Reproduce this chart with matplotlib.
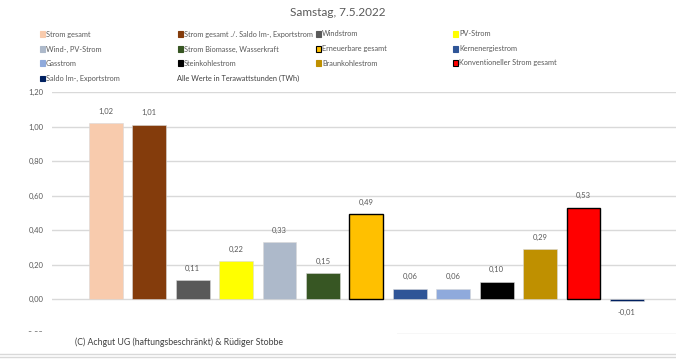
import matplotlib
matplotlib.use("Agg")
import matplotlib.pyplot as plt
from matplotlib.patches import Rectangle
from matplotlib.lines import Line2D

plt.rcParams['font.family'] = ['Lato', 'DejaVu Sans']

title = "Samstag, 7.5.2022"
series = ["Strom gesamt", "Strom gesamt ./. Saldo Im-, Exportstrom", "Windstrom", "PV-Strom",
          "Wind-, PV-Strom", "Strom Biomasse, Wasserkraft", "Erneuerbare gesamt", "Kernenergiestrom",
          "Gasstrom", "Steinkohlestrom", "Braunkohlestrom", "Konventioneller Strom gesamt",
          "Saldo Im-, Exportstrom"]
values = [1.02, 1.01, 0.11, 0.22, 0.33, 0.15, 0.49, 0.06, 0.06, 0.10, 0.29, 0.53, -0.01]
colours = ["#F8CBAD", "#843C0C", "#595959", "#FFFF00", "#ADB9CA", "#375623", "#FFC000",
           "#2F5597", "#8FAADC", "#000000", "#BF9000", "#FF0000", "#002060"]
edged = ["Erneuerbare gesamt", "Konventioneller Strom gesamt"]
yticks = [-0.2, 0.0, 0.2, 0.4, 0.6, 0.8, 1.0, 1.2]

W, H = 676, 359
fig = plt.figure(figsize=(W / 100, H / 100), dpi=100)

def fx(px):
    return px / W

def fy(py):
    return 1 - py / H

ax = fig.add_axes([fx(52), fy(333.5), 1 - fx(52), fy(92) - fy(333.5)])
text_col = "#595959"

xs = list(range(len(values)))
for x, v, c, name in zip(xs, values, colours, series):
    if name in edged:
        ax.bar(x, v, width=0.78, color=c, edgecolor="black", linewidth=1.0, zorder=3)
    else:
        ax.bar(x, v, width=0.78, color=c, edgecolor="#D9D9D9", linewidth=0.4, zorder=3)
    label = ("%.2f" % v).replace(".", ",")
    if v >= 0:
        ax.annotate(label, (x, v), xytext=(0, 6), textcoords="offset points",
                    ha="center", va="bottom", fontsize=5.5, color=text_col)
    else:
        ax.annotate(label, (x, v), xytext=(0, -6), textcoords="offset points",
                    ha="center", va="top", fontsize=5.5, color=text_col)

ax.set_xlim(-1.24, 13.13)
ax.set_ylim(-0.2, 1.2)
ax.set_yticks(yticks)
ax.set_yticklabels([("%.2f" % t).replace(".", ",") for t in yticks], fontsize=5.5, color=text_col)
ax.set_xticks([])
ax.tick_params(axis="y", length=0, pad=6)
ax.grid(axis="y", color="#D9D9D9", linewidth=1, zorder=0)
for s in ax.spines.values():
    s.set_visible(False)

fig.text(0.5, fy(13), title, ha="center", va="center", fontsize=8.5, color=text_col)

# legend, 4 columns, row-major like the original
col_x = [42, 180, 318, 455]
row_y = [34, 49, 63, 78]
for i, name in enumerate(series):
    r, c = divmod(i, 4)
    x0, y0 = col_x[c], row_y[r]
    ec = "black" if name in edged else colours[i]
    fig.add_artist(Rectangle((fx(x0 - 2.5), fy(y0 + 2.5)), fx(5), fy(0) - fy(5),
                             facecolor=colours[i], edgecolor=ec, linewidth=0.8))
    fig.text(fx(x0 + 4), fy(y0), name, ha="left", va="center", fontsize=5.3, color=text_col)

fig.text(fx(177), fy(78), "Alle Werte in Terawattstunden (TWh)", ha="left", va="center",
         fontsize=5.3, color="#404040")

# copyright box hides the lower left of the plot
fig.add_artist(Rectangle((0, fy(351)), fx(397), fy(332) - fy(351), facecolor="white",
                         edgecolor="none", zorder=5))
fig.text(fx(75), fy(342), "(C) Achgut UG (haftungsbeschränkt) & Rüdiger Stobbe", ha="left",
         va="center", fontsize=6.3, color="#404040", zorder=6)

fig.add_artist(Line2D([0, 1], [fy(354), fy(354)], color="#D9D9D9", linewidth=1))
fig.add_artist(Line2D([0, 1], [fy(357), fy(357)], color="#D9D9D9", linewidth=1))

fig.savefig("out.png", dpi=100)
